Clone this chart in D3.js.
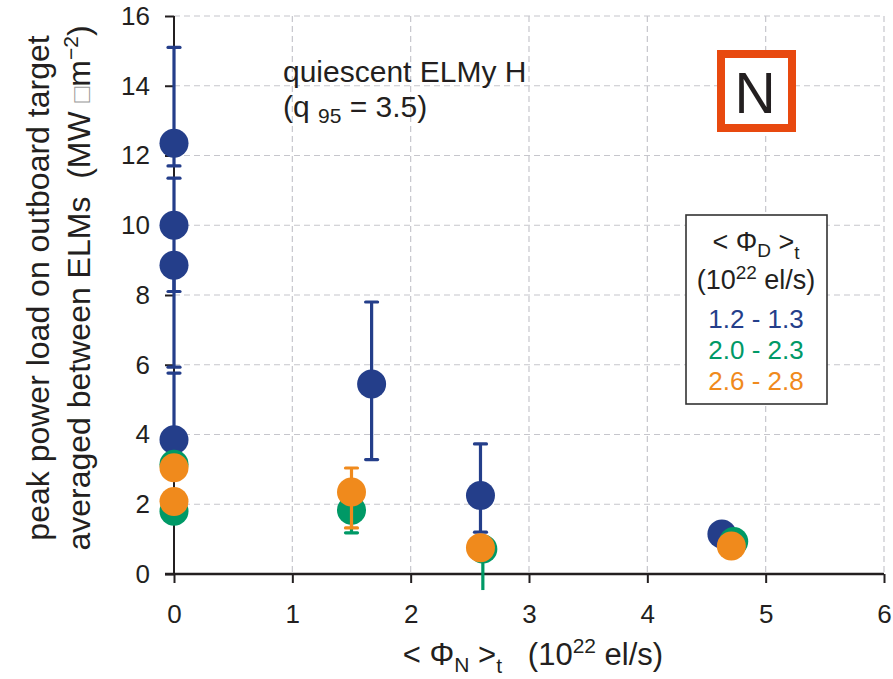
<!DOCTYPE html>
<html>
<head>
<meta charset="utf-8">
<script src="https://cdn.jsdelivr.net/npm/d3@7"></script>
<style>
  body { margin: 0; background: #fff; }
  svg { font-family: "Liberation Sans", Arial, sans-serif; }
</style>
</head>
<body>
<svg id="chart" width="893" height="679"></svg>
<script>
// values
const xTicks = [0, 1, 2, 3, 4, 5, 6];
const yTicks = [0, 2, 4, 6, 8, 10, 12, 14, 16];

const blueN = [0, 0, 0, 0, 1.67, 2.59, 4.63];
const blueP = [12.35, 10.0, 8.85, 3.85, 5.45, 2.25, 1.15];
const blueLo = [11.7, 8.1, 5.93, 3.85, 3.28, 1.2, null];
const blueHi = [15.1, 11.35, 8.85, 5.76, 7.8, 3.73, null];

const greenN = [0, 0, 1.5, 2.61, 4.73];
const greenP = [3.15, 1.8, 1.83, 0.72, 0.93];
const greenLo = [null, null, 1.18, -0.46, null];
const greenHi = [null, null, 1.83, 0.72, null];

const orangeN = [0, 0, 1.5, 2.59, 4.71];
const orangeP = [3.05, 2.08, 2.35, 0.75, 0.8];
const orangeLo = [null, null, 1.32, null, null];
const orangeHi = [null, null, 3.04, null, null];

const seriesLabels = ['1.2 - 1.3', '2.0 - 2.3', '2.6 - 2.8'];
const seriesColors = ['#243e8a', '#009966', '#f08a1c'];

const svg = d3.select('#chart'),
    margin = {top: 16, right: 9, bottom: 105, left: 174},
    width = 893 - margin.left - margin.right,
    height = 679 - margin.top - margin.bottom,
    textColor = '#231f20',
    g = svg.append('g').attr('transform', 'translate(' + margin.left + ',' + margin.top + ')');

const xScale = d3.scaleLinear().domain([0, 6]).range([0, width]);
const yScale = d3.scaleLinear().domain([0, 16]).range([height, 0]);

// grid
g.append('g')
    .selectAll('line').data(xTicks.slice(1)).join('line')
    .attr('x1', d => xScale(d)).attr('x2', d => xScale(d))
    .attr('y1', 0).attr('y2', height)
    .attr('stroke', '#c6c6cc').attr('stroke-width', 1.2).attr('stroke-dasharray', '6,4');
g.append('g')
    .selectAll('line').data(yTicks.slice(1)).join('line')
    .attr('x1', 0).attr('x2', width)
    .attr('y1', d => yScale(d)).attr('y2', d => yScale(d))
    .attr('stroke', '#c6c6cc').attr('stroke-width', 1.2).attr('stroke-dasharray', '6,4');

// axes
const xAxis = d3.axisBottom(xScale).tickValues(xTicks).tickFormat(d3.format('d')).tickSize(9).tickPadding(22);
const yAxis = d3.axisLeft(yScale).tickValues(yTicks).tickFormat(d3.format('d')).tickSize(9).tickPadding(15);
g.append('g')
    .attr('transform', 'translate(0,' + height + ')')
    .call(xAxis)
    .call(function (g) {
        g.select('.domain').remove();
        g.selectAll('.tick line').attr('stroke', textColor).attr('stroke-width', 2);
        g.selectAll('.tick text').attr('fill', textColor).style('font-size', '26px')
            .style('font-family', '"Liberation Sans", Arial, sans-serif');
    });
g.append('g')
    .call(yAxis)
    .call(function (g) {
        g.select('.domain').remove();
        g.selectAll('.tick line').attr('stroke', textColor).attr('stroke-width', 2);
        g.selectAll('.tick text').attr('fill', textColor).style('font-size', '26px')
            .style('font-family', '"Liberation Sans", Arial, sans-serif');
    });
g.append('line')
    .attr('x1', 0).attr('y1', 0).attr('x2', 0).attr('y2', height)
    .attr('stroke', textColor).attr('stroke-width', 2);
g.append('line')
    .attr('x1', -9).attr('y1', height).attr('x2', width).attr('y2', height)
    .attr('stroke', textColor).attr('stroke-width', 2.5);

// data: error bars first, then circles, series by series
function drawSeries(xs, ys, lo, hi, color) {
    for (let i = 0; i < xs.length; i++) {
        if (lo[i] === null) continue;
        const cx = xScale(xs[i]);
        g.append('line')
            .attr('x1', cx).attr('x2', cx)
            .attr('y1', yScale(lo[i])).attr('y2', yScale(hi[i]))
            .attr('stroke', color).attr('stroke-width', 3.2);
        [lo[i], hi[i]].forEach(function (v) {
            if (v === ys[i] || v < 0) return;
            g.append('line')
                .attr('x1', cx - 6).attr('x2', cx + 6)
                .attr('y1', yScale(v)).attr('y2', yScale(v))
                .attr('stroke', color).attr('stroke-width', 3.2).attr('stroke-linecap', 'round');
        });
    }
    for (let i = 0; i < xs.length; i++) {
        g.append('circle')
            .attr('cx', xScale(xs[i]))
            .attr('cy', yScale(ys[i]))
            .attr('r', 14.5)
            .attr('fill', color);
    }
}
drawSeries(blueN, blueP, blueLo, blueHi, seriesColors[0]);
drawSeries(greenN, greenP, greenLo, greenHi, seriesColors[1]);
drawSeries(orangeN, orangeP, orangeLo, orangeHi, seriesColors[2]);

// annotation
svg.append('text').attr('x', 283).attr('y', 82).attr('fill', textColor)
    .style('font-size', '30px').text('quiescent ELMy H');
const q = svg.append('text').attr('x', 283).attr('y', 117).attr('fill', textColor)
    .style('font-size', '30px');
q.append('tspan').text('(q ');
q.append('tspan').attr('dy', 6).style('font-size', '21px').text('95');
q.append('tspan').attr('dy', -6).text(' = 3.5)');

// N box
svg.append('rect').attr('x', 721).attr('y', 54).attr('width', 71).attr('height', 74)
    .attr('fill', '#fff').attr('stroke', '#e8490f').attr('stroke-width', 8);
svg.append('text').attr('x', 755).attr('y', 113).attr('text-anchor', 'middle')
    .attr('fill', textColor).style('font-size', '57px').text('N');

// legend
const lg = svg.append('g');
lg.append('rect').attr('x', 686).attr('y', 215).attr('width', 141).attr('height', 189)
    .attr('fill', '#fff').attr('stroke', '#333').attr('stroke-width', 1.6);
const l1 = lg.append('text').attr('x', 756).attr('y', 251).attr('text-anchor', 'middle')
    .attr('fill', textColor).style('font-size', '27px');
l1.append('tspan').text('< Φ');
l1.append('tspan').attr('dy', 6).style('font-size', '19px').text('D');
l1.append('tspan').attr('dy', -6).text(' >');
l1.append('tspan').attr('dy', 8).style('font-size', '19px').text('t');
const l2 = lg.append('text').attr('x', 756).attr('y', 289).attr('text-anchor', 'middle')
    .attr('fill', textColor).style('font-size', '27px');
l2.append('tspan').text('(10');
l2.append('tspan').attr('dy', -10).style('font-size', '19px').text('22');
l2.append('tspan').attr('dy', 10).text(' el/s)');
lg.selectAll('.entry').data(seriesLabels).join('text')
    .attr('class', 'entry')
    .attr('x', 756).attr('y', (d, i) => 328 + i * 31)
    .attr('text-anchor', 'middle')
    .attr('fill', (d, i) => seriesColors[i])
    .style('font-size', '26px')
    .text(d => d);

// x label
const xl = svg.append('text').attr('x', 533).attr('y', 665).attr('text-anchor', 'middle')
    .attr('fill', textColor).style('font-size', '31px');
xl.append('tspan').text('< Φ');
xl.append('tspan').attr('dy', 7).style('font-size', '21px').text('N');
xl.append('tspan').attr('dy', -7).text(' >');
xl.append('tspan').attr('dy', 8).style('font-size', '21px').text('t');
xl.append('tspan').attr('dy', -8).text('\u00a0\u00a0 (10');
xl.append('tspan').attr('dy', -12).style('font-size', '21px').text('22');
xl.append('tspan').attr('dy', 12).text(' el/s)');

// y label, two lines
const cy = 288;
svg.append('text')
    .attr('transform', 'translate(49,' + cy + ') rotate(-90)')
    .attr('text-anchor', 'middle').attr('fill', textColor).style('font-size', '32px')
    .text('peak power load on outboard target');
const yl = svg.append('text')
    .attr('transform', 'translate(90,' + cy + ') rotate(-90)')
    .attr('text-anchor', 'middle').attr('fill', textColor).style('font-size', '32px');
yl.append('tspan').text('averaged between ELMs\u00a0 (MW ');
yl.append('tspan').attr('fill', '#999').style('font-size', '26px').text('□');
yl.append('tspan').text('m');
yl.append('tspan').attr('dy', -12).style('font-size', '21px').text('−2');
yl.append('tspan').attr('dy', 12).text(')');
</script>
</body>
</html>
